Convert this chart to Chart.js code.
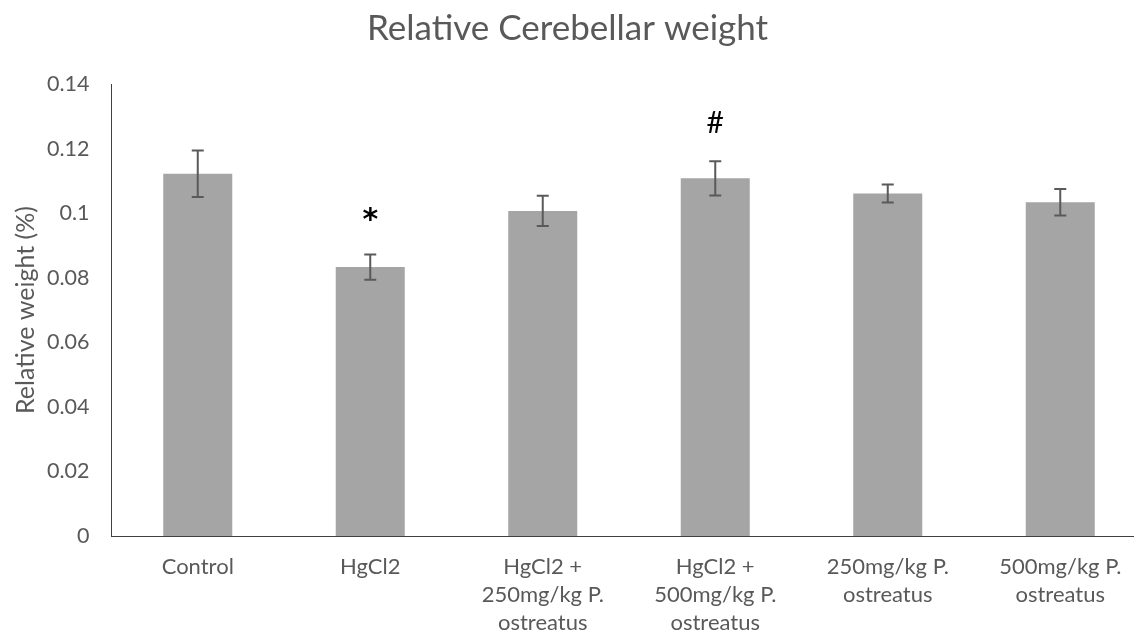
<!DOCTYPE html>
<html>
<head>
<meta charset="utf-8">
<script src="https://cdn.jsdelivr.net/npm/chart.js@4.4.1/dist/chart.umd.min.js"></script>
<style>
  html, body { margin: 0; padding: 0; background: #ffffff; overflow: hidden; }
  #wrap { position: relative; width: 1150px; height: 637px; }
</style>
</head>
<body>
<div id="wrap"><canvas id="myChart"></canvas></div>
<script>
// groups on the x axis (multi line labels like the excel chart)
let categories = [
  ['Control'],
  ['HgCl2'],
  ['HgCl2 +', '250mg/kg P.', 'ostreatus'],
  ['HgCl2 +', '500mg/kg P.', 'ostreatus'],
  ['250mg/kg P.', 'ostreatus'],
  ['500mg/kg P.', 'ostreatus']
];

// mean relative weight (%) and the error (+/-)
let weights = [0.1122, 0.0833, 0.1007, 0.1108, 0.1061, 0.1034];
let errors = [0.0072, 0.0039, 0.0047, 0.0053, 0.0028, 0.0041];

// significance marks above the bars
let marks = ['', '*', '', '#', '', ''];

let yTickLabels = ['0', '0.02', '0.04', '0.06', '0.08', '0.1', '0.12', '0.14'];

let textColor = '#595959';
let fontName = 'Lato, Carlito, Calibri, sans-serif';

// draws the error bars and the * / # marks
const errorBarPlugin = {
  id: 'errorBars',
  afterDatasetsDraw(chart) {
    let ctx = chart.ctx;
    let yScale = chart.scales.y;
    let meta = chart.getDatasetMeta(0);
    ctx.save();
    for (let i = 0; i < weights.length; i++) {
      let x = meta.data[i].x;
      let yTop = yScale.getPixelForValue(weights[i] + errors[i]);
      let yBot = yScale.getPixelForValue(weights[i] - errors[i]);
      ctx.strokeStyle = '#5a5a5a';
      ctx.lineWidth = 2;
      ctx.beginPath();
      ctx.moveTo(x, yTop);
      ctx.lineTo(x, yBot);
      ctx.moveTo(x - 6, yTop);
      ctx.lineTo(x + 6, yTop);
      ctx.moveTo(x - 6, yBot);
      ctx.lineTo(x + 6, yBot);
      ctx.stroke();

      if (marks[i] !== '') {
        ctx.fillStyle = '#000000';
        ctx.textAlign = 'center';
        ctx.textBaseline = 'middle';
        if (marks[i] === '*') {
          ctx.font = 'bold 30px "DejaVu Sans"';
          ctx.fillText(marks[i], x, yTop - 33);
        } else {
          ctx.font = '30px ' + fontName;
          ctx.fillText(marks[i], x, yTop - 38);
        }
      }
    }
    ctx.restore();
  }
};

let ctx = document.getElementById('myChart').getContext('2d');
let myChart = new Chart(ctx, {
  type: 'bar',
  data: {
    labels: categories,
    datasets: [{
      data: weights,
      backgroundColor: '#a5a5a5',
      borderWidth: 0,
      barPercentage: 0.4,
      categoryPercentage: 1.0
    }]
  },
  options: {
    responsive: true,
    maintainAspectRatio: false,
    animation: false,
    layout: {
      padding: { left: -11.5, right: 3.5, top: 0, bottom: 0 }
    },
    plugins: {
      legend: { display: false },
      tooltip: { enabled: false },
      title: {
        display: true,
        text: 'Relative Cerebellar weight',
        color: textColor,
        font: { family: fontName, size: 35, weight: 'normal', lineHeight: 1.2 },
        padding: { top: 7.5, bottom: 34.5 }
      }
    },
    scales: {
      x: {
        grid: { display: false, drawTicks: false },
        border: { display: true, color: '#404040', width: 1 },
        ticks: {
          color: textColor,
          padding: 17,
          maxRotation: 0,
          autoSkip: false,
          font: { family: fontName, size: 22, lineHeight: '28px' }
        },
        afterFit: function (scale) {
          scale.height = 101;
        }
      },
      y: {
        min: 0,
        max: 0.14,
        grid: { display: false, drawTicks: false },
        border: { display: true, color: '#404040', width: 1 },
        ticks: {
          stepSize: 0.02,
          color: textColor,
          padding: 22,
          font: { family: fontName, size: 21.5 },
          callback: function (value, index) {
            return yTickLabels[index];
          }
        },
        title: {
          display: true,
          text: 'Relative weight (%)',
          color: textColor,
          font: { family: fontName, size: 25, lineHeight: 1.2 },
          padding: { top: 22.5, bottom: 0 }
        },
        afterFit: function (scale) {
          scale.width = 123;
        }
      }
    }
  },
  plugins: [errorBarPlugin]
});
</script>
</body>
</html>
